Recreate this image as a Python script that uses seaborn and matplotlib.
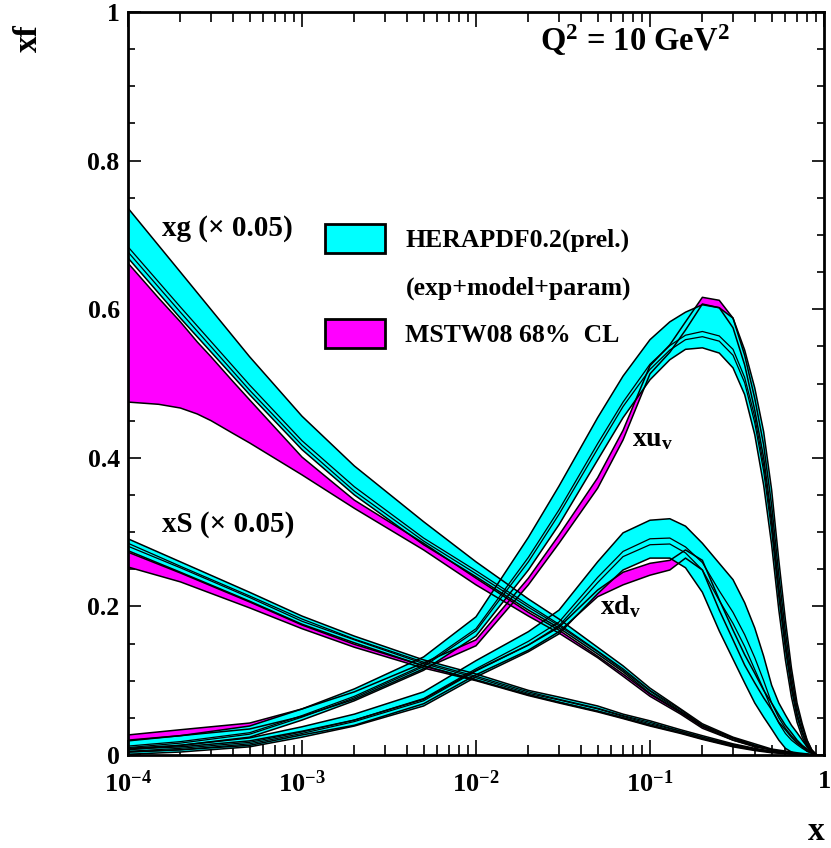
import numpy as np
import pandas as pd
import matplotlib
matplotlib.use("Agg")
import matplotlib.pyplot as plt
import seaborn as sns
from matplotlib.patches import Patch
from matplotlib.ticker import LogLocator, MultipleLocator, NullFormatter

# ---------------- data ----------------
x_low = [1e-4, 2e-4, 5e-4, 1e-3, 2e-3, 5e-3, 0.01, 0.02, 0.03, 0.05, 0.07, 0.1,
         0.15, 0.2, 0.3, 0.4, 0.5, 0.7, 0.9]
x_mg = [1e-4, 1.5e-4, 2e-4, 2.5e-4, 3e-4, 4e-4, 5e-4, 1e-3, 2e-3, 5e-3, 0.01, 0.02,
        0.03, 0.05, 0.07, 0.1, 0.15, 0.2, 0.3, 0.4, 0.5, 0.7, 0.9]
x_val = [1e-4, 2e-4, 5e-4, 1e-3, 2e-3, 5e-3, 0.01, 0.02, 0.03, 0.05, 0.07, 0.1,
         0.13, 0.16, 0.2, 0.25, 0.3, 0.35, 0.4, 0.45, 0.5, 0.55, 0.6, 0.65, 0.7,
         0.75, 0.8, 0.85, 0.9]

# gluon (x 0.05)
hera_xg_hi = [0.736, 0.650, 0.536, 0.456, 0.389, 0.314, 0.260, 0.210, 0.183, 0.145, 0.120, 0.090, 0.062, 0.042, 0.024, 0.015, 0.008, 0.003, 0.000]
hera_xg_lo = [0.669, 0.588, 0.485, 0.411, 0.350, 0.283, 0.240, 0.195, 0.171, 0.136, 0.112, 0.083, 0.058, 0.039, 0.022, 0.012, 0.007, 0.001, 0.000]
hera_xg_e1 = [0.684, 0.603, 0.498, 0.423, 0.361, 0.292, 0.248, 0.202, 0.176, 0.140, 0.116, 0.087, 0.061, 0.040, 0.023, 0.013, 0.007, 0.002, 0.000]
hera_xg_e2 = [0.677, 0.596, 0.491, 0.417, 0.355, 0.288, 0.244, 0.199, 0.174, 0.139, 0.114, 0.086, 0.059, 0.040, 0.023, 0.013, 0.007, 0.002, 0.000]
mstw_xg_hi = [0.662, 0.615, 0.583, 0.556, 0.536, 0.503, 0.478, 0.401, 0.343, 0.285, 0.238, 0.192, 0.168, 0.133, 0.109, 0.082, 0.057, 0.038, 0.020, 0.012, 0.007, 0.001, 0.000]
mstw_xg_lo = [0.475, 0.472, 0.467, 0.459, 0.450, 0.433, 0.420, 0.377, 0.332, 0.276, 0.229, 0.187, 0.164, 0.131, 0.106, 0.079, 0.055, 0.036, 0.020, 0.011, 0.007, 0.001, 0.000]

# sea (x 0.05)
hera_xs_hi = [0.291, 0.260, 0.219, 0.187, 0.160, 0.128, 0.109, 0.087, 0.078, 0.066, 0.055, 0.046, 0.034, 0.026, 0.015, 0.009, 0.005, 0.001, 0.000]
hera_xs_lo = [0.275, 0.246, 0.207, 0.176, 0.151, 0.120, 0.101, 0.081, 0.071, 0.059, 0.050, 0.040, 0.030, 0.022, 0.012, 0.007, 0.004, 0.001, 0.000]
hera_xs_e1 = [0.285, 0.254, 0.214, 0.183, 0.156, 0.125, 0.106, 0.085, 0.075, 0.063, 0.053, 0.044, 0.032, 0.024, 0.014, 0.008, 0.005, 0.001, 0.000]
hera_xs_e2 = [0.281, 0.252, 0.212, 0.180, 0.155, 0.123, 0.104, 0.083, 0.074, 0.062, 0.052, 0.042, 0.032, 0.024, 0.013, 0.008, 0.004, 0.001, 0.000]
mstw_xs_hi = [0.273, 0.245, 0.206, 0.175, 0.149, 0.120, 0.101, 0.081, 0.071, 0.059, 0.050, 0.040, 0.030, 0.022, 0.012, 0.007, 0.004, 0.001, 0.000]
mstw_xs_lo = [0.253, 0.233, 0.198, 0.170, 0.145, 0.117, 0.100, 0.080, 0.070, 0.058, 0.049, 0.039, 0.029, 0.021, 0.011, 0.006, 0.003, 0.001, 0.000]

# u valence
hera_uv_hi = [0.019, 0.026, 0.039, 0.062, 0.089, 0.132, 0.186, 0.293, 0.362, 0.454, 0.510, 0.559, 0.583, 0.596, 0.606, 0.602, 0.588, 0.545, 0.494, 0.435, 0.357, 0.262, 0.182, 0.117, 0.070, 0.042, 0.020, 0.007, 0.001]
hera_uv_lo = [0.007, 0.013, 0.024, 0.047, 0.073, 0.114, 0.160, 0.249, 0.310, 0.397, 0.454, 0.505, 0.532, 0.546, 0.548, 0.541, 0.521, 0.485, 0.431, 0.363, 0.283, 0.195, 0.128, 0.078, 0.044, 0.024, 0.011, 0.004, 0.000]
hera_uv_e1 = [0.012, 0.018, 0.030, 0.053, 0.079, 0.121, 0.170, 0.266, 0.330, 0.419, 0.475, 0.526, 0.551, 0.565, 0.570, 0.564, 0.546, 0.508, 0.455, 0.390, 0.311, 0.220, 0.149, 0.093, 0.054, 0.031, 0.014, 0.005, 0.000]
hera_uv_e2 = [0.010, 0.016, 0.028, 0.051, 0.077, 0.119, 0.167, 0.260, 0.324, 0.412, 0.469, 0.519, 0.545, 0.559, 0.563, 0.557, 0.538, 0.501, 0.447, 0.382, 0.302, 0.212, 0.142, 0.088, 0.051, 0.029, 0.013, 0.005, 0.000]
mstw_uv_hi = [0.027, 0.034, 0.043, 0.062, 0.085, 0.124, 0.155, 0.238, 0.296, 0.373, 0.437, 0.524, 0.552, 0.583, 0.616, 0.612, 0.588, 0.538, 0.480, 0.417, 0.336, 0.242, 0.166, 0.106, 0.063, 0.038, 0.019, 0.007, 0.001]
mstw_uv_lo = [0.020, 0.026, 0.035, 0.052, 0.075, 0.116, 0.147, 0.229, 0.285, 0.359, 0.424, 0.513, 0.542, 0.572, 0.607, 0.602, 0.575, 0.525, 0.464, 0.400, 0.319, 0.225, 0.152, 0.096, 0.055, 0.032, 0.015, 0.004, 0.000]

# d valence
hera_dv_hi = [0.009, 0.013, 0.023, 0.038, 0.055, 0.085, 0.127, 0.166, 0.195, 0.260, 0.299, 0.316, 0.318, 0.308, 0.285, 0.258, 0.236, 0.205, 0.171, 0.133, 0.094, 0.070, 0.054, 0.040, 0.030, 0.020, 0.011, 0.004, 0.000]
hera_dv_lo = [0.001, 0.004, 0.011, 0.024, 0.039, 0.066, 0.105, 0.139, 0.163, 0.217, 0.249, 0.265, 0.265, 0.252, 0.219, 0.167, 0.129, 0.097, 0.070, 0.051, 0.035, 0.020, 0.009, 0.004, 0.001, 0.000, 0.000, 0.000, 0.000]
hera_dv_e1 = [0.005, 0.009, 0.017, 0.031, 0.047, 0.076, 0.116, 0.153, 0.179, 0.239, 0.274, 0.291, 0.292, 0.280, 0.259, 0.221, 0.192, 0.162, 0.131, 0.100, 0.070, 0.050, 0.036, 0.026, 0.018, 0.012, 0.007, 0.002, 0.000]
hera_dv_e2 = [0.004, 0.007, 0.015, 0.029, 0.045, 0.073, 0.113, 0.148, 0.174, 0.232, 0.267, 0.283, 0.284, 0.272, 0.249, 0.208, 0.177, 0.146, 0.115, 0.088, 0.062, 0.043, 0.029, 0.020, 0.014, 0.009, 0.005, 0.002, 0.000]
mstw_dv_hi = [0.008, 0.011, 0.019, 0.032, 0.047, 0.075, 0.114, 0.148, 0.172, 0.222, 0.246, 0.258, 0.262, 0.276, 0.262, 0.209, 0.168, 0.135, 0.110, 0.087, 0.070, 0.054, 0.040, 0.030, 0.020, 0.013, 0.008, 0.004, 0.001]
mstw_dv_lo = [0.004, 0.007, 0.013, 0.027, 0.040, 0.069, 0.108, 0.141, 0.166, 0.213, 0.229, 0.242, 0.249, 0.265, 0.249, 0.195, 0.155, 0.121, 0.097, 0.077, 0.061, 0.044, 0.034, 0.024, 0.016, 0.011, 0.005, 0.003, 0.000]

x_ticks = [1e-4, 1e-3, 1e-2, 1e-1, 1]
x_ticklabels = ["10$^{-4}$", "10$^{-3}$", "10$^{-2}$", "10$^{-1}$", "1"]
y_ticks = [0, 0.2, 0.4, 0.6, 0.8, 1.0]
y_ticklabels = ["0", "0.2", "0.4", "0.6", "0.8", "1"]
legend_labels = ["HERAPDF0.2(prel.)", "(exp+model+param)", "MSTW08 68%  CL"]

# ---------------- style ----------------
sns.set_theme(style="ticks")
plt.rcParams["font.family"] = ["Liberation Serif", "DejaVu Serif"]
plt.rcParams["font.weight"] = "bold"
plt.rcParams["mathtext.fontset"] = "custom"
plt.rcParams["mathtext.rm"] = "Liberation Serif:bold"
plt.rcParams["mathtext.it"] = "Liberation Serif:bold"
plt.rcParams["mathtext.bf"] = "Liberation Serif:bold"
plt.rcParams["text.color"] = "black"

CYAN = "#00FFFF"
MAG = "#FF00FF"

fig = plt.figure(figsize=(8.31, 8.48), dpi=100)
ax = fig.add_axes([128 / 831, 93 / 848, 696 / 831, 743 / 848])
ax.set_xscale("log")


def line(x, y, lw=1.1):
    sns.lineplot(x=x, y=y, ax=ax, color="black", lw=lw, estimator=None,
                 sort=False, legend=False)


def band(x, hi, lo, color, inner=()):
    ax.fill_between(x, lo, hi, facecolor=color, edgecolor="none", lw=0)
    for e in inner:
        line(x, e, lw=0.9)
    line(x, hi)
    line(x, lo)


# MSTW first (underneath)
band(x_mg, mstw_xg_hi, mstw_xg_lo, MAG)
band(x_low, mstw_xs_hi, mstw_xs_lo, MAG)
band(x_val, mstw_uv_hi, mstw_uv_lo, MAG)
band(x_val, mstw_dv_hi, mstw_dv_lo, MAG)

# HERAPDF on top
band(x_val, hera_dv_hi, hera_dv_lo, CYAN, (hera_dv_e1, hera_dv_e2))
band(x_val, hera_uv_hi, hera_uv_lo, CYAN, (hera_uv_e1, hera_uv_e2))
band(x_low, hera_xs_hi, hera_xs_lo, CYAN, (hera_xs_e1, hera_xs_e2))
band(x_low, hera_xg_hi, hera_xg_lo, CYAN, (hera_xg_e1, hera_xg_e2))

# axes
ax.set_xlim(1e-4, 1)
ax.set_ylim(0, 1)
ax.set_xticks(x_ticks)
ax.set_xticklabels(x_ticklabels)
ax.xaxis.set_minor_locator(LogLocator(base=10, subs=np.arange(2, 10), numticks=20))
ax.xaxis.set_minor_formatter(NullFormatter())
ax.set_yticks(y_ticks)
ax.set_yticklabels(y_ticklabels)
ax.yaxis.set_minor_locator(MultipleLocator(0.05))
for s in ax.spines.values():
    s.set_linewidth(2.0)
    s.set_color("black")
    s.set_visible(True)
ax.tick_params(which="both", direction="in", top=True, right=True, color="black",
               width=1.2, labelcolor="black")
ax.tick_params(axis="x", which="major", length=11, pad=11, labelsize=19)
ax.tick_params(axis="x", which="minor", length=7)
ax.tick_params(axis="y", which="major", length=9, pad=6, labelsize=18.5)
ax.tick_params(axis="y", which="minor", length=5)
ax.grid(False)

# axis titles
fig.text(28 / 831, 1 - 38 / 848, "xf", fontsize=24, fontweight="bold",
         rotation=90, ha="center", va="center")
fig.text(816 / 831, 1 - 832 / 848, "x", fontsize=24, fontweight="bold",
         ha="center", va="center")

# annotations
ax.text(0.049, 0.709, "xg (\u00d7 0.05)", transform=ax.transAxes, fontsize=21,
        fontweight="bold", ha="left", va="center")
ax.text(0.049, 0.310, "xS (\u00d7 0.05)", transform=ax.transAxes, fontsize=21,
        fontweight="bold", ha="left", va="center")
ax.text(0.724, 0.424, "xu$_{\\rm v}$", transform=ax.transAxes, fontsize=20,
        fontweight="bold", ha="left", va="center")
ax.text(0.678, 0.199, "xd$_{\\rm v}$", transform=ax.transAxes, fontsize=20,
        fontweight="bold", ha="left", va="center")
ax.text(0.592, 0.962, "Q$^{2}$ = 10 GeV$^{2}$", transform=ax.transAxes,
        fontsize=23.5, fontweight="bold", ha="left", va="center")

handles = [Patch(facecolor=CYAN, edgecolor="black", lw=2),
           Patch(facecolor="none", edgecolor="none"),
           Patch(facecolor=MAG, edgecolor="black", lw=2)]
leg = ax.legend(handles, legend_labels, loc="upper left",
                bbox_to_anchor=(0.283, 0.715), frameon=False, borderpad=0,
                borderaxespad=0, handlelength=2.33, handleheight=1.35,
                handletextpad=0.8, labelspacing=0.74,
                prop={"family": "Liberation Serif", "weight": "bold", "size": 18.5})

fig.savefig("out.png", dpi=100)
